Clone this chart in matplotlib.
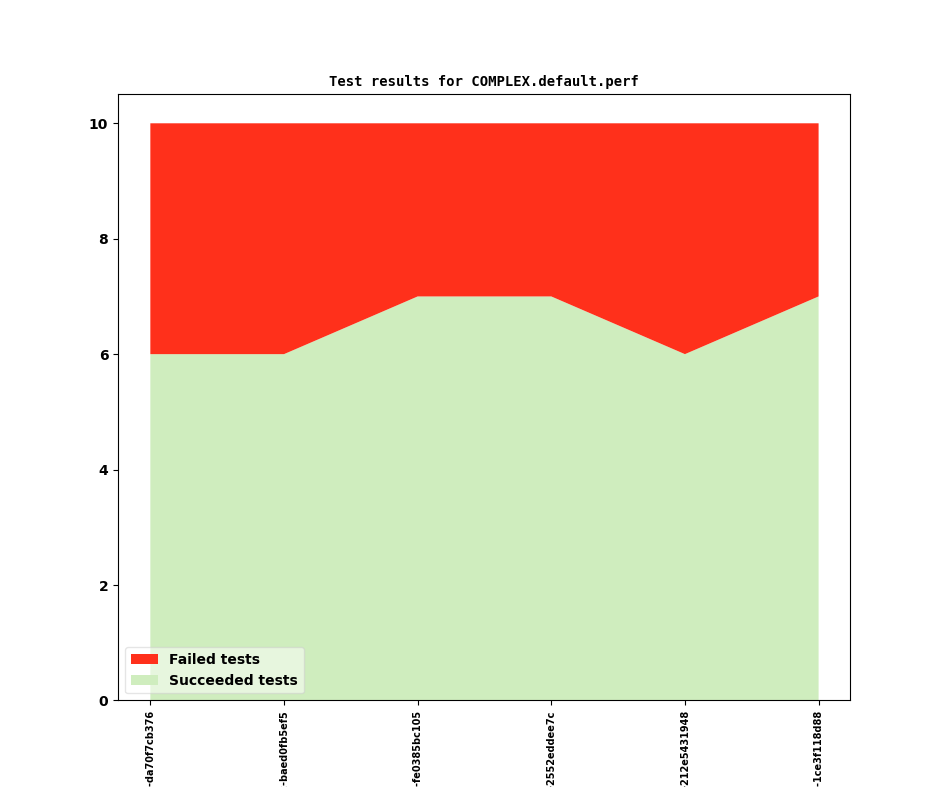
import matplotlib
matplotlib.use("Agg")
import matplotlib.pyplot as plt

commits = ["2021-01-11-da70f7cb376", "2021-01-12-baed0fb5ef5", "2021-01-13-fe0385bc105",
           "2021-01-14-2552eddee7c", "2021-01-15-212e5431948", "2021-01-16-1ce3f118d88"]
succeeded = [6, 6, 7, 7, 6, 7]
failed = [4, 4, 3, 3, 4, 3]

fig, ax = plt.subplots(figsize=(9.44, 7.87), dpi=100)
x = list(range(len(commits)))
polys = ax.stackplot(x, succeeded, failed, colors=["#cfedbe", "#ff301b"],
                     labels=["Succeeded tests", "Failed tests"])
ax.set_xlim(-0.242, 5.232)
ax.set_ylim(0, 10.5)
ax.set_xticks(x)
ax.set_xticklabels(commits, rotation=90, fontsize=7, fontweight="bold")
for lbl in ax.get_yticklabels():
    lbl.set_fontweight("bold")
    lbl.set_fontsize(10)
ax.set_title("Test results for COMPLEX.default.perf", family="monospace",
             fontweight="bold", fontsize=10)
h, l = ax.get_legend_handles_labels()
ax.legend(h[::-1], l[::-1], loc="lower left", framealpha=0.5,
          prop={"weight": "bold", "size": 10})
plt.savefig("out.png")
